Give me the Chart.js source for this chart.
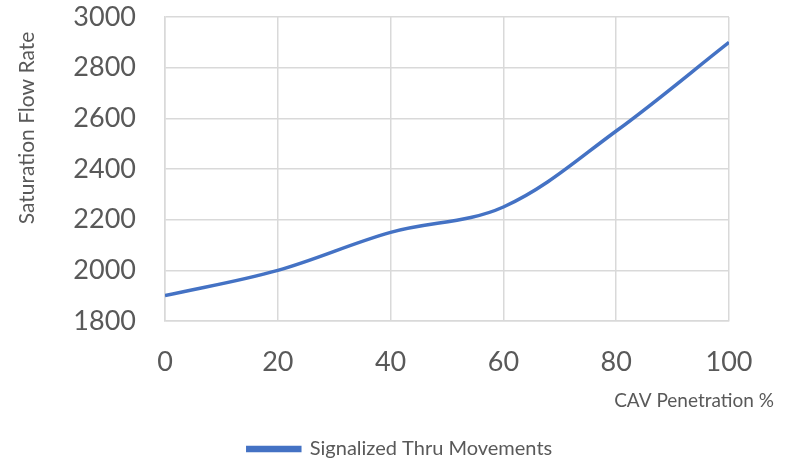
<!DOCTYPE html>
<html>
<head>
<meta charset="utf-8">
<script src="https://cdn.jsdelivr.net/npm/chart.js@4/dist/chart.umd.min.js"></script>
<style>
html,body{margin:0;padding:0;background:#fff;}
#wrap{width:788px;height:462px;position:relative;}
</style>
</head>
<body>
<div id="wrap"><canvas id="c" width="788" height="462"></canvas></div>
<script>
const penetration = [0, 20, 40, 60, 80, 100];
const flowRate = [1900, 2000, 2150, 2250, 2550, 2900];
const seriesName = 'Signalized Thru Movements';
const xTitle = 'CAV Penetration %';
const yTitle = 'Saturation Flow Rate';

const FONT = 'Lato, "Open Sans", sans-serif';
const GREY = '#595959';
const GRID = '#d9d9d9';
const BLUE = '#4472C4';

const titlesPlugin = {
  id: 'titles',
  afterDraw(chart) {
    const ctx = chart.ctx;
    ctx.save();
    ctx.fillStyle = GREY;
    ctx.font = '19px ' + FONT;
    ctx.textAlign = 'right';
    ctx.textBaseline = 'middle';
    ctx.fillText(xTitle, 774, 401);
    ctx.font = '21px ' + FONT;
    ctx.translate(27, 128);
    ctx.rotate(-Math.PI / 2);
    ctx.textAlign = 'center';
    ctx.fillText(yTitle, 0, 0);
    ctx.restore();
  }
};

new Chart(document.getElementById('c'), {
  type: 'line',
  data: {
    datasets: [{
      label: seriesName,
      data: penetration.map((x, i) => ({x: x, y: flowRate[i]})),
      borderColor: BLUE,
      backgroundColor: BLUE,
      borderWidth: 3.5,
      pointRadius: 0,
      tension: 0.35,
      fill: false
    }]
  },
  options: {
    responsive: false,
    animation: false,
    layout: {padding: {top: 17, right: 59, left: 71, bottom: -7}},
    plugins: {
      legend: {
        position: 'bottom',
        labels: {
          boxWidth: 52,
          boxHeight: 3,
          padding: 5,
          color: GREY,
          font: {family: FONT, size: 20}
        }
      },
      tooltip: {enabled: false}
    },
    scales: {
      x: {
        type: 'linear',
        min: 0, max: 100,
        ticks: {stepSize: 20, padding: 25, color: GREY, font: {family: FONT, size: 27},
                callback: v => String(v)},
        grid: {color: GRID, lineWidth: 1.5, drawTicks: false},
        border: {color: GRID, width: 1.5},
        afterFit(s) { s.height = 113; }
      },
      y: {
        min: 1800, max: 3000,
        ticks: {stepSize: 200, padding: 0, color: GREY, font: {family: FONT, size: 27},
                callback: v => String(v)},
        grid: {color: GRID, lineWidth: 1.5, drawTicks: true, tickLength: 29, tickColor: 'rgba(0,0,0,0)'},
        border: {color: GRID, width: 1.5},
        afterFit(s) { s.width = 94; }
      }
    }
  },
  plugins: [titlesPlugin]
});
</script>
</body>
</html>
